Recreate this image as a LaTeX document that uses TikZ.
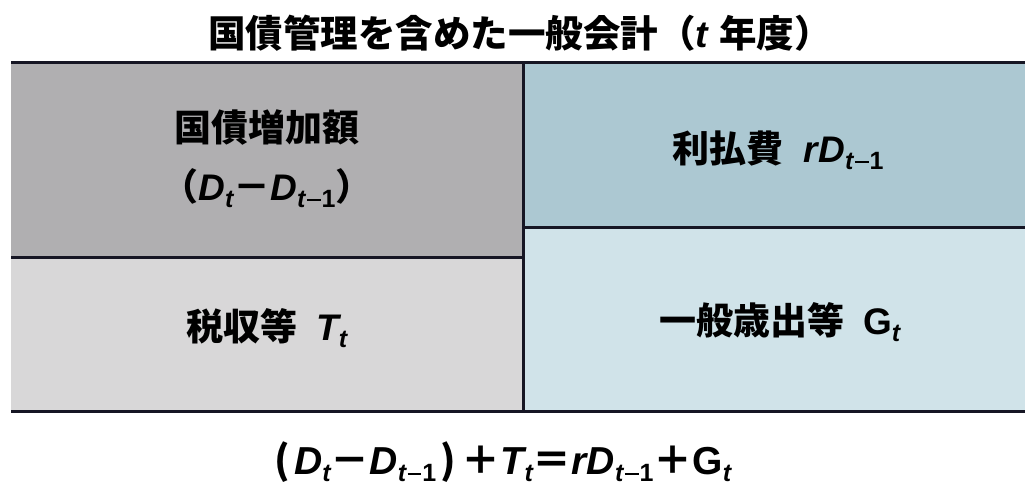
\documentclass[tikz,border=0pt]{standalone}
\usepackage{fontspec}
\setmainfont{Noto Sans CJK JP}
\newfontfamily\lat{Liberation Sans}
\definecolor{dgray}{RGB}{176,175,177}
\definecolor{lgray}{RGB}{216,215,216}
\definecolor{dblue}{RGB}{172,200,210}
\definecolor{lblue}{RGB}{208,227,233}
\definecolor{rule}{RGB}{22,22,36}
\newcommand\iv[1]{{\lat\bfseries\itshape #1}}
\newcommand\sbs[1]{\raisebox{-0.35ex}{\fontsize{25}{27}\selectfont\lat\bfseries #1}}
\newcommand\sbi[1]{\raisebox{-0.35ex}{\fontsize{25}{27}\selectfont\lat\bfseries\itshape #1}}
\newcommand\smin{\raisebox{0.26em}{\rule{0.55em}{0.08em}}}
\newcommand\Dt{\iv{D}\sbi{t}}
\newcommand\Dtm{\iv{D}\sbi{t}\sbs{\hspace{0.06em}\smin\hspace{0.04em}1}}
\tikzset{
  lbl/.style={font=\fontsize{37}{44}\selectfont\bfseries, inner sep=0pt, align=center},
  rl/.style={draw=rule, line width=3pt}
}
\begin{document}
\begin{tikzpicture}[x=1pt,y=-1pt]
\useasboundingbox (0,0) rectangle (1025,492);
\fill[white] (0,0) rectangle (1025,492);
% fills
\fill[dgray] (11,63) rectangle (523,257);
\fill[lgray] (11,257) rectangle (523,411);
\fill[dblue] (523,63) rectangle (1025,227);
\fill[lblue] (523,227) rectangle (1025,411);
% rules
\coordinate (tl) at (11,63);
\coordinate (tr) at (1025,63);
\coordinate (bl) at (11,411);
\coordinate (br) at (1025,411);
\coordinate (mt) at (523,63);
\coordinate (mb) at (523,411);
\coordinate (lh1) at (11,257);
\coordinate (lh2) at (523,257);
\coordinate (rh1) at (523,227);
\coordinate (rh2) at (1025,227);
\draw[rl] (tl) -- (tr);
\draw[rl] (bl) -- (br);
\draw[rl] (mt) -- (mb);
\draw[rl] (lh1) -- (lh2);
\draw[rl] (rh1) -- (rh2);
% texts
\node[lbl, font=\fontsize{37.5}{40}\selectfont\bfseries] (title) at (520,33) {国債管理を含めた一般会計（\iv{t}\hspace{0.3em}年度）};
\node[lbl] (debt1) at (267,128) {国債増加額};
\node[lbl] (debt2) at (267,188) {（\Dt－\Dtm）};
\node[lbl] (int) at (778,150) {利払費\hspace{0.55em}\iv{r}\Dtm};
\node[lbl] (tax) at (267,328) {税収等\hspace{0.5em}\iv{T}\sbi{t}};
\node[lbl] (exp) at (780,322) {一般歳出等\hspace{0.5em}{\lat\bfseries G}\sbi{t}};
\node[lbl, font=\fontsize{39}{44}\selectfont\bfseries] (eq) at (503,462) {(\hspace{0.1em}\Dt－\Dtm\hspace{0.1em})\hspace{0.15em}＋\iv{T}\sbi{t}＝\iv{r}\Dtm＋{\lat\bfseries G}\sbi{t}};
\end{tikzpicture}
\end{document}
